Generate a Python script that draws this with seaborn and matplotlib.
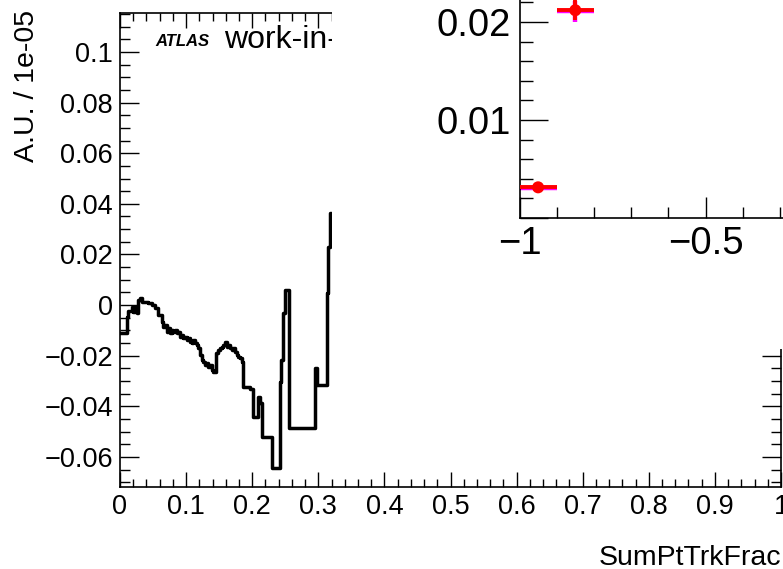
import numpy as np
import pandas as pd
import matplotlib
matplotlib.use("Agg")
import matplotlib.pyplot as plt
from matplotlib.patches import Rectangle
from matplotlib.ticker import MultipleLocator, FuncFormatter
import seaborn as sns

# Main histogram: variable-width bins of SumPtTrkFrac and their contents (units of 1e-05)
bin_edges = [
    0.0000, 0.0102, 0.0126, 0.0177, 0.0202, 0.0227, 0.0253, 0.0277, 0.0303, 0.0329,
    0.0379, 0.0429, 0.0480, 0.0530, 0.0580, 0.0632, 0.0656, 0.0682, 0.0708, 0.0732,
    0.0758, 0.0783, 0.0808, 0.0833, 0.0859, 0.0883, 0.0909, 0.0935, 0.0959, 0.0985,
    0.1011, 0.1035, 0.1061, 0.1086, 0.1111, 0.1136, 0.1162, 0.1186, 0.1212, 0.1238,
    0.1262, 0.1288, 0.1314, 0.1338, 0.1364, 0.1389, 0.1414, 0.1455, 0.1489, 0.1515,
    0.1541, 0.1565, 0.1591, 0.1617, 0.1641, 0.1667, 0.1692, 0.1717, 0.1742, 0.1768,
    0.1792, 0.1818, 0.1844, 0.1859, 0.1970, 0.2015, 0.2091, 0.2121, 0.2147, 0.2298,
    0.2424, 0.2439, 0.2459, 0.2489, 0.2550, 0.2955, 0.2980, 0.3132, 0.3147, 0.3170,
    0.3189,
]
bin_values = [
    -0.0109, -0.0046, -0.0024, -0.0008, -0.0026, -0.0008, -0.0033, 0.0020, 0.0026, 0.0013,
    0.0012, 0.0007, 0.0000, -0.0013, -0.0040, -0.0066, -0.0086, -0.0079, -0.0106, -0.0092,
    -0.0112, -0.0099, -0.0106, -0.0099, -0.0112, -0.0106, -0.0125, -0.0119, -0.0132, -0.0125,
    -0.0138, -0.0132, -0.0145, -0.0151, -0.0138, -0.0151, -0.0158, -0.0171, -0.0198, -0.0217,
    -0.0224, -0.0237, -0.0230, -0.0244, -0.0237, -0.0257, -0.0264, -0.0191, -0.0178, -0.0171,
    -0.0165, -0.0158, -0.0145, -0.0165, -0.0158, -0.0171, -0.0178, -0.0171, -0.0185, -0.0198,
    -0.0204, -0.0211, -0.0224, -0.0323, -0.0332, -0.0441, -0.0362, -0.0387, -0.0521, -0.0645,
    -0.0303, -0.0217, -0.0033, 0.0059, -0.0487, -0.0250, -0.0316, 0.0046, 0.0230, 0.0362,
]

# Inset: two binned points (red) with an overlaid magenta copy
inset_x = [-0.95, -0.85]
inset_y = [0.00313, 0.0212]
inset_xerr = [0.05, 0.05]
inset_yerr = [0.0002, 0.0010]
inset_y_alt = [0.00310, 0.02108]
inset_yerr_alt = [0.0002, 0.0011]

sns.set_theme(style="ticks")
plt.rcParams["font.family"] = ["Liberation Sans", "DejaVu Sans"]
plt.rcParams["axes.unicode_minus"] = True

W, H = 783, 569
fig = plt.figure(figsize=(W / 100, H / 100), dpi=100)
fig.patch.set_facecolor("white")


def fx(px):
    return px / W


def fy(py):
    return 1 - py / H


def root_fmt(v, pos=None):
    v = round(v, 6)
    if v == 0:
        return "0"
    return f"{v:g}".replace("-", "\u2212")


# ---- main pad ----
ax = fig.add_axes([fx(120), fy(487), fx(781) - fx(120), fy(13) - fy(487)])
ax.set_facecolor("white")
centers = 0.5 * (np.array(bin_edges[:-1]) + np.array(bin_edges[1:]))
df = pd.DataFrame({"SumPtTrkFrac": centers, "content": bin_values})
sns.histplot(data=df, x="SumPtTrkFrac", weights="content", bins=bin_edges,
             element="step", fill=False, color="black", linewidth=2.5, ax=ax)

ax.set_xlim(0, 1)
ax.set_ylim(-0.0719, 0.1154)
ax.set_xlabel("")
ax.set_ylabel("")
ax.xaxis.set_major_locator(MultipleLocator(0.1))
ax.xaxis.set_minor_locator(MultipleLocator(0.02))
ax.yaxis.set_major_locator(MultipleLocator(0.02))
ax.yaxis.set_minor_locator(MultipleLocator(0.005))
ax.xaxis.set_major_formatter(FuncFormatter(root_fmt))
ax.yaxis.set_major_formatter(FuncFormatter(root_fmt))
ax.tick_params(which="both", direction="in", top=True, right=True,
               color="black", width=1.0, labelsize=19.5, labelcolor="black")
ax.tick_params(axis="y", which="major", length=14, pad=5)
ax.tick_params(axis="y", which="minor", length=7)
ax.tick_params(axis="x", which="major", length=11, pad=5)
ax.tick_params(axis="x", which="minor", length=5.5)
for s in ax.spines.values():
    s.set_color("black")
    s.set_linewidth(1.2)

# ATLAS label (partly hidden behind the inset pad)
ax.text(fx(155), fy(46), "ATLAS", transform=fig.transFigure, fontsize=12,
        fontweight="bold", fontstyle="italic", ha="left", va="baseline", color="black")
ax.text(fx(224), fy(48), "work-in-progress", transform=fig.transFigure, fontsize=23,
        ha="left", va="baseline", color="black")

fig.text(fx(27), fy(10), "A.U. / 1e-05", rotation=90, ha="center", va="top",
         fontsize=20.5, color="black")
fig.text(fx(781), fy(565), "SumPtTrkFrac", ha="right", va="baseline",
         fontsize=20.5, color="black")

# ---- inset pad ----
pad = Rectangle((fx(332), fy(349)), 1 - fx(332) + 0.01, fy(0) - fy(349) + 0.01,
                transform=fig.transFigure, facecolor="white", edgecolor="none", zorder=1)
fig.patches.append(pad)

axin = fig.add_axes([fx(519.5), fy(218), 1 - fx(519.5), fy(0) - fy(218)])
axin.set_zorder(2)
axin.set_facecolor("white")
axin.set_xlim(-1, -1 + (W - 519.5) / 372)
axin.set_ylim(0, 218 / 9800)

axin.errorbar(inset_x, inset_y_alt, xerr=inset_xerr, yerr=inset_yerr_alt, fmt="none",
              ecolor="#ff00ff", elinewidth=3.2, capsize=0, zorder=2)
axin.errorbar(inset_x, inset_y, xerr=inset_xerr, yerr=inset_yerr, fmt="none",
              ecolor="#ff0000", elinewidth=2.8, capsize=0, zorder=3)
sns.scatterplot(x=inset_x, y=inset_y, color="#ff0000", s=75, edgecolor="none",
                ax=axin, zorder=4, legend=False)

axin.spines["top"].set_visible(False)
axin.spines["right"].set_visible(False)
for side in ("left", "bottom"):
    axin.spines[side].set_color("black")
    axin.spines[side].set_linewidth(1.2)
axin.xaxis.set_major_locator(MultipleLocator(0.5))
axin.xaxis.set_minor_locator(MultipleLocator(0.1))
axin.yaxis.set_major_locator(MultipleLocator(0.01))
axin.yaxis.set_minor_locator(MultipleLocator(0.002))
axin.xaxis.set_major_formatter(FuncFormatter(root_fmt))
axin.yaxis.set_major_formatter(FuncFormatter(lambda v, p: "" if abs(v) < 1e-9 else root_fmt(v)))
axin.tick_params(which="both", direction="in", color="black", width=1.0,
                 labelsize=27.5, labelcolor="black")
axin.tick_params(axis="y", which="major", length=20, pad=6)
axin.tick_params(axis="y", which="minor", length=9.5)
axin.tick_params(axis="x", which="major", length=15, pad=6)
axin.tick_params(axis="x", which="minor", length=8)

fig.savefig("out.png", dpi=100, facecolor="white")
